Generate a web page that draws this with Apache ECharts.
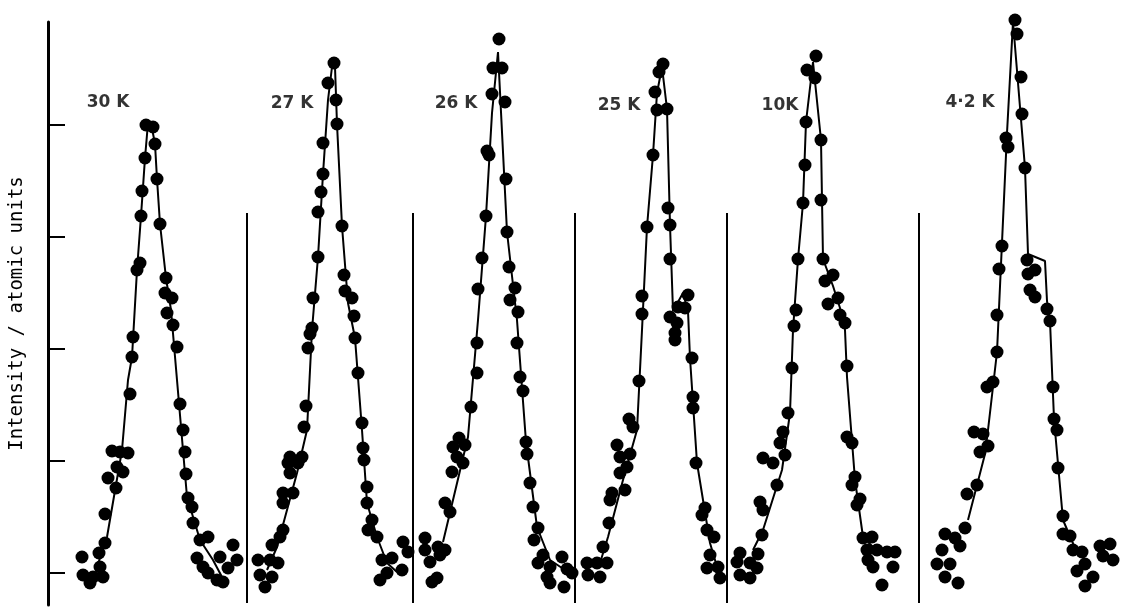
<!DOCTYPE html>
<html>
<head>
<meta charset="utf-8">
<script src="https://cdn.jsdelivr.net/npm/echarts@6/dist/echarts.min.js"></script>
<style>
html,body{margin:0;padding:0;background:#fff;}
#chart{width:1145px;height:614px;}
</style>
</head>
<body>
<div id="chart"></div>
<script>
// ---- data (scan position, intensity in arbitrary units) ----
const temps = ['30 K', '27 K', '26 K', '25 K', '10K', '4\u00b72 K'];
const yTicks = [0, 112, 224, 336, 448];
const dividers = [247, 413, 575, 727, 919];

const pts30 = [[146,448],[153,446],[155,429],[145,415],[157,394],[142,382],[141,357],[160,349],[140,310],[137,303],
 [166,295],[165,280],[172,275],[167,260],[173,248],[177,226],[133,236],[132,216],[130,179],[112,122],[120,121],[128,120],
 [117,106],[123,101],[108,95],[116,85],[105,59],[105,30],[99,20],[82,16],[83,-2],[90,-10],[100,6],[103,-4],[93,-4],
 [180,169],[183,143],[185,121],[186,99],[188,75],[192,66],[193,50],[200,33],[208,36],[197,15],[203,6],[208,0],[217,-7],
 [223,-9],[220,16],[233,28],[237,13],[228,5]];
const fit30 = [[97,6],[107,36],[122,123],[128,193],[132,216],[137,303],[141,357],[145,415],[148,450],[151,450],[155,429],
 [157,394],[160,349],[166,295],[171,263],[177,193],[187,76],[200,33],[213,13],[222,-4]];

const pts27 = [[334,510],[328,490],[336,473],[337,449],[323,430],[323,399],[321,381],[318,361],[342,347],[318,316],
 [344,298],[345,282],[352,275],[354,257],[313,275],[312,245],[310,239],[308,225],[355,235],[306,167],[304,146],[358,200],
 [362,150],[363,125],[364,113],[290,116],[302,116],[288,110],[290,100],[298,110],[283,80],[293,80],[283,70],[367,86],
 [367,70],[372,53],[368,43],[377,36],[283,43],[272,28],[280,36],[258,13],[270,13],[278,10],[260,-2],[272,-4],[265,-14],
 [382,13],[392,15],[402,3],[387,0],[380,-7],[403,31],[408,21]];
const fit27 = [[267,3],[277,26],[297,100],[307,143],[312,243],[318,316],[323,399],[328,473],[332,506],[335,506],[337,449],
 [342,347],[348,270],[355,235],[362,143],[367,70],[377,36],[387,10],[397,1]];

const pts26 = [[499,534],[493,505],[502,505],[492,479],[505,471],[487,422],[489,418],[506,394],[486,357],[507,341],
 [482,315],[509,306],[478,284],[515,285],[510,273],[518,261],[477,230],[477,200],[471,166],[459,135],[453,126],[465,128],
 [457,116],[463,110],[452,101],[445,70],[450,61],[425,35],[438,26],[445,23],[425,23],[430,11],[440,18],[432,-9],[437,-5],
 [517,230],[520,196],[523,182],[526,131],[527,119],[530,90],[533,66],[538,45],[534,33],[543,18],[538,10],[550,6],[562,16],
 [567,4],[547,-4],[550,-10],[564,-14],[572,0]];
const fit26 = [[443,31],[468,136],[478,253],[486,357],[492,460],[498,521],[500,521],[507,341],[517,253],[526,131],
 [537,46],[550,13],[565,3]];

const pts25 = [[663,509],[659,501],[655,481],[657,463],[667,464],[653,418],[668,365],[670,348],[647,346],[670,314],
 [642,277],[642,259],[678,266],[688,278],[685,265],[670,256],[677,250],[675,240],[675,233],[639,192],[629,154],[633,146],
 [617,128],[620,116],[630,119],[627,106],[620,100],[612,80],[625,83],[610,73],[609,50],[603,26],[587,10],[597,10],[607,10],
 [588,-2],[600,-4],[692,215],[693,176],[693,165],[696,110],[705,65],[702,58],[707,43],[714,36],[710,18],[707,5],[718,6],
 [720,-5]];
const fit25 = [[600,10],[608,36],[623,93],[637,143],[642,243],[647,346],[653,418],[657,480],[662,506],[664,506],[667,464],
 [670,348],[673,262],[683,280],[688,262],[690,215],[693,170],[697,110],[710,30],[720,-4]];

const pts10 = [[816,517],[807,503],[815,495],[806,451],[821,433],[805,408],[803,370],[821,373],[798,314],[823,314],
 [833,298],[825,292],[838,275],[828,269],[840,258],[845,250],[796,263],[794,247],[792,205],[788,160],[783,141],[780,130],
 [785,118],[763,115],[773,110],[777,88],[760,71],[763,63],[762,38],[758,19],[740,20],[737,11],[750,10],[757,5],[740,-2],
 [750,-5],[847,207],[847,136],[852,130],[855,96],[852,88],[860,74],[857,68],[863,35],[872,36],[867,23],[877,23],[887,21],
 [895,21],[868,13],[873,6],[893,6],[882,-12]];
const fit10 = [[753,23],[763,43],[782,103],[790,160],[793,243],[798,314],[803,370],[806,451],[813,511],[815,511],[821,433],
 [823,314],[833,287],[840,265],[845,243],[847,196],[855,93],[863,36],[873,26],[885,20]];

const pts42 = [[1015,553],[1017,539],[1021,496],[1022,459],[1006,435],[1008,426],[1025,405],[1002,327],[999,304],
 [997,258],[997,221],[993,191],[987,186],[974,141],[983,139],[988,127],[980,121],[977,88],[967,79],[965,45],[945,39],
 [955,35],[942,23],[960,27],[937,9],[950,9],[945,-4],[958,-10],[1027,313],[1028,299],[1035,303],[1030,283],[1035,276],
 [1047,264],[1050,252],[1053,186],[1054,154],[1057,143],[1058,105],[1063,57],[1063,39],[1070,37],[1073,23],[1082,21],
 [1085,9],[1077,2],[1100,27],[1110,29],[1113,13],[1103,17],[1093,-4],[1085,-13]];
const fit42 = [[968,53],[985,119],[988,143],[997,221],[1007,440],[1013,551],[1015,551],[1025,405],[1028,319],[1045,312],
 [1047,272],[1050,252],[1054,154],[1063,53],[1075,25]];

const panels = [[pts30, fit30], [pts27, fit27], [pts26, fit26], [pts25, fit25], [pts10, fit10], [pts42, fit42]];

// ---- layout (not data) ----
const labelAnchor = [[108,470],[292,469],[456,469],[619,467],[780,467],[970,470]];

const series = [];
panels.forEach(([pts, fit]) => {
  series.push({
    type: 'line', data: fit, showSymbol: false, symbol: 'none', silent: true, z: 2, clip: false,
    lineStyle: { color: '#000', width: 2 }
  });
  series.push({
    type: 'scatter', data: pts, symbol: 'circle', symbolSize: 13, z: 3, clip: false,
    itemStyle: { color: '#000', opacity: 1 }
  });
});
series.push({
  type: 'scatter', symbol: 'circle', symbolSize: 1, z: 4, clip: false, silent: true,
  itemStyle: { color: 'rgba(0,0,0,0)' },
  data: labelAnchor.map((p, i) => ({ value: p, name: temps[i] })),
  label: { show: true, position: 'inside', formatter: p => p.name, color: '#000',
           fontFamily: 'DejaVu Sans', fontWeight: 'bold', fontSize: 17 }
});
series.push({
  type: 'line', data: [], silent: true, z: 1,
  markLine: {
    symbol: ['none', 'none'], silent: true, label: { show: false },
    lineStyle: { color: '#000', width: 2, type: 'solid' },
    data: dividers.map(x => [{ coord: [x, -30] }, { coord: [x, 360] }])
  }
});

const chart = echarts.init(document.getElementById('chart'), null, { renderer: 'canvas' });
chart.setOption({
  backgroundColor: '#fff',
  animation: false,
  grid: { left: 48, right: 0, top: 22, bottom: 9, containLabel: false, outerBoundsMode: 'none' },
  xAxis: { type: 'value', min: 48, max: 1145, show: false },
  yAxis: {
    type: 'value', min: -32, max: 551,
    name: 'Intensity / atomic units', nameLocation: 'middle', nameGap: 21, nameRotate: 90,
    nameTextStyle: { fontFamily: 'DejaVu Sans Mono', fontSize: 19, color: '#000' },
    axisLine: { show: true, onZero: false, lineStyle: { color: '#000', width: 3 } },
    axisTick: { show: true, inside: true, length: 17, customValues: yTicks, lineStyle: { color: '#000', width: 2 } },
    axisLabel: { show: false, customValues: yTicks },
    splitLine: { show: false }
  },
  series: series
});
</script>
</body>
</html>
